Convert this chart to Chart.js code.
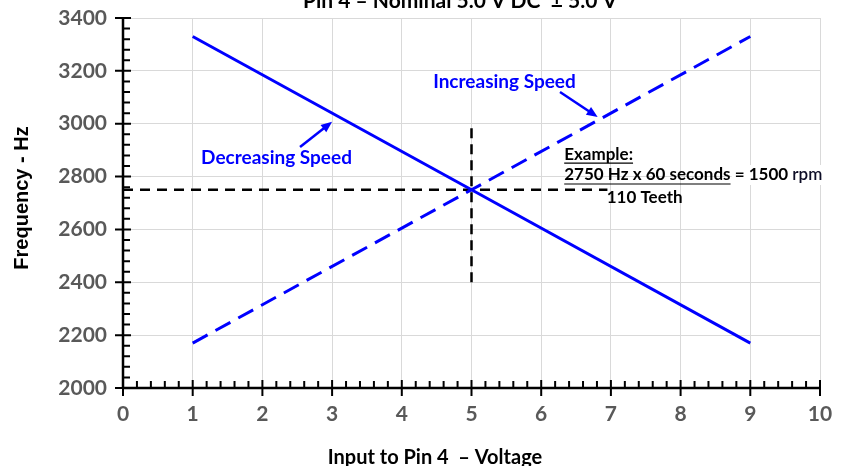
<!DOCTYPE html>
<html>
<head>
<meta charset="utf-8">
<script src="https://cdn.jsdelivr.net/npm/chart.js@4.4.1/dist/chart.umd.min.js"></script>
<style>
  html, body { margin: 0; padding: 0; background: #fff; }
  #wrap { width: 842px; height: 466px; }
</style>
</head>
<body>
<div id="wrap"><canvas id="myChart" width="842" height="466"></canvas></div>
<script>
// voltage input (x) and frequency (y)
const voltage = [1, 5, 9];
const decreasingHz = [3330, 2750, 2170];
const increasingHz = [2170, 2750, 3330];

// example guide lines
const guideHX = [0, 6.95];
const guideHY = [2750, 2750];
const guideVX = [5, 5];
const guideVY = [2400, 3000];

const xTicks = [0, 1, 2, 3, 4, 5, 6, 7, 8, 9, 10];
const yTicks = [2000, 2200, 2400, 2600, 2800, 3000, 3200, 3400];

const chartTitle = "Pin 4 \u2013 Nominal 5.0 V DC  \u00b1 5.0 V";
const xTitle = "Input to Pin 4  \u2013 Voltage";
const yTitle = "Frequency - Hz";

const labelFont = "Lato, 'Open Sans', sans-serif";

function pts(xs, ys) {
  return xs.map((x, i) => ({ x: x, y: ys[i] }));
}

const axesPlugin = {
  id: "axesPlugin",
  afterDraw(chart) {
    const ctx = chart.ctx;
    const xs = chart.scales.x, ys = chart.scales.y;
    const a = chart.chartArea;
    const X = v => xs.getPixelForValue(v);
    const Y = v => ys.getPixelForValue(v);
    ctx.save();

    // axis lines
    ctx.strokeStyle = "#000";
    ctx.lineWidth = 2.5;
    ctx.beginPath();
    ctx.moveTo(a.left, a.top); ctx.lineTo(a.left, a.bottom);
    ctx.moveTo(a.left, a.bottom); ctx.lineTo(a.right, a.bottom);
    ctx.stroke();

    // y ticks: major every 200, minor every 40
    ctx.lineWidth = 2;
    ctx.beginPath();
    for (let v = 2000; v <= 3400; v += 40) {
      const y = Y(v);
      if ((v - 2000) % 200 === 0) { ctx.moveTo(a.left - 8, y); ctx.lineTo(a.left + 8, y); }
      else { ctx.moveTo(a.left, y); ctx.lineTo(a.left + 7, y); }
    }
    // x ticks: major every 1, minor every 0.2
    for (let i = 0; i <= 50; i++) {
      const x = X(i * 0.2);
      if (i % 5 === 0) { ctx.moveTo(x, a.bottom - 8); ctx.lineTo(x, a.bottom + 8); }
      else { ctx.moveTo(x, a.bottom); ctx.lineTo(x, a.bottom - 7); }
    }
    ctx.stroke();

    // tick labels
    ctx.fillStyle = "#595959";
    ctx.font = "bold 21px " + labelFont;
    ctx.textAlign = "center";
    ctx.textBaseline = "middle";
    xTicks.forEach(v => ctx.fillText(String(v), X(v), a.bottom + 26));
    ctx.textAlign = "right";
    yTicks.forEach(v => ctx.fillText(String(v), a.left - 16, Y(v)));

    // axis titles
    ctx.fillStyle = "#000";
    ctx.font = "bold 20px " + labelFont;
    ctx.textAlign = "center";
    ctx.fillText(xTitle, 435, a.bottom + 70);
    ctx.save();
    ctx.translate(22, 198);
    ctx.rotate(-Math.PI / 2);
    ctx.font = "bold 20px 'Liberation Sans', Arial, sans-serif";
    ctx.fillText(yTitle, 0, 0);
    ctx.restore();

    // title, cut off at the top
    ctx.font = "bold 21px " + labelFont;
    ctx.textBaseline = "alphabetic";
    ctx.fillText(chartTitle, 460, 8);

    // blue labels and arrows
    ctx.fillStyle = "#0000ff";
    ctx.strokeStyle = "#0000ff";
    ctx.font = "bold 19px " + labelFont;
    ctx.textAlign = "left";
    ctx.textBaseline = "middle";
    ctx.fillText("Decreasing Speed", X(1.12), Y(2870));
    ctx.fillText("Increasing Speed", X(4.45), Y(3158));
    function arrow(x1, y1, x2, y2) {
      const px1 = X(x1), py1 = Y(y1), px2 = X(x2), py2 = Y(y2);
      const ang = Math.atan2(py2 - py1, px2 - px1);
      ctx.lineWidth = 2.5;
      ctx.beginPath();
      ctx.moveTo(px1, py1);
      ctx.lineTo(px2 - 6 * Math.cos(ang), py2 - 6 * Math.sin(ang));
      ctx.stroke();
      ctx.beginPath();
      ctx.moveTo(px2, py2);
      ctx.lineTo(px2 - 12 * Math.cos(ang - 0.4), py2 - 12 * Math.sin(ang - 0.4));
      ctx.lineTo(px2 - 12 * Math.cos(ang + 0.4), py2 - 12 * Math.sin(ang + 0.4));
      ctx.closePath();
      ctx.fill();
    }
    arrow(2.54, 2912, 3.0, 3007);
    arrow(6.27, 3120, 6.81, 3025);

    // example text
    ctx.fillStyle = "#000";
    ctx.strokeStyle = "#000";
    ctx.font = "bold 17px " + labelFont;
    const ex = X(6.33);
    function underlined(t, x, y) {
      ctx.fillText(t, x, y);
      const w = ctx.measureText(t).width;
      ctx.lineWidth = 1.2;
      ctx.beginPath();
      ctx.moveTo(x, y + 9); ctx.lineTo(x + w, y + 9);
      ctx.stroke();
      return w;
    }
    underlined("Example:", ex, Y(2885));
    const y2 = Y(2806);
    const w2 = underlined("2750 Hz x 60 seconds", ex, y2);
    ctx.fillStyle = "#fff";
    ctx.fillRect(ex + w2 + 1, y2 - 10, 92, 20);
    ctx.fillStyle = "#000";
    ctx.fillText(" = 1500", ex + w2, y2);
    const w3 = ctx.measureText(" = 1500 ").width;
    ctx.font = "600 17px " + labelFont;
    ctx.fillStyle = "#0d0d26";
    ctx.fillText("rpm", ex + w2 + w3, y2);
    ctx.fillStyle = "#000";
    ctx.font = "bold 17px " + labelFont;
    ctx.fillText("110 Teeth", X(6.94), Y(2719));

    ctx.restore();
  }
};

const ctx = document.getElementById("myChart").getContext("2d");
const chart = new Chart(ctx, {
  type: "line",
  data: {
    datasets: [
      {
        label: "Decreasing Speed",
        data: pts(voltage, decreasingHz),
        borderColor: "#0000ff",
        borderWidth: 3,
        pointRadius: 0
      },
      {
        label: "Increasing Speed",
        data: pts(voltage, increasingHz),
        borderColor: "#0000ff",
        borderWidth: 3,
        borderDash: [17, 9],
        pointRadius: 0
      },
      {
        label: "guide h",
        data: pts(guideHX, guideHY),
        borderColor: "#000",
        borderWidth: 2.5,
        borderDash: [10, 7],
        pointRadius: 0
      },
      {
        label: "guide v",
        data: pts(guideVX, guideVY),
        borderColor: "#000",
        borderWidth: 2.5,
        borderDash: [10, 6],
        pointRadius: 0
      }
    ]
  },
  options: {
    responsive: false,
    animation: false,
    devicePixelRatio: 1,
    layout: { padding: { left: 123, right: 22, top: 18, bottom: 78 } },
    plugins: { legend: { display: false }, tooltip: { enabled: false } },
    scales: {
      x: {
        type: "linear",
        min: 0, max: 10,
        ticks: { display: false, stepSize: 1 },
        grid: { color: "#d9d9d9", lineWidth: 1, drawTicks: false },
        border: { display: false },
        afterFit(s) { s.height = 0; }
      },
      y: {
        min: 2000, max: 3400,
        ticks: { display: false, stepSize: 200 },
        grid: { color: "#d9d9d9", lineWidth: 1, drawTicks: false },
        border: { display: false },
        afterFit(s) { s.width = 0; }
      }
    }
  },
  plugins: [axesPlugin]
});
</script>
</body>
</html>
